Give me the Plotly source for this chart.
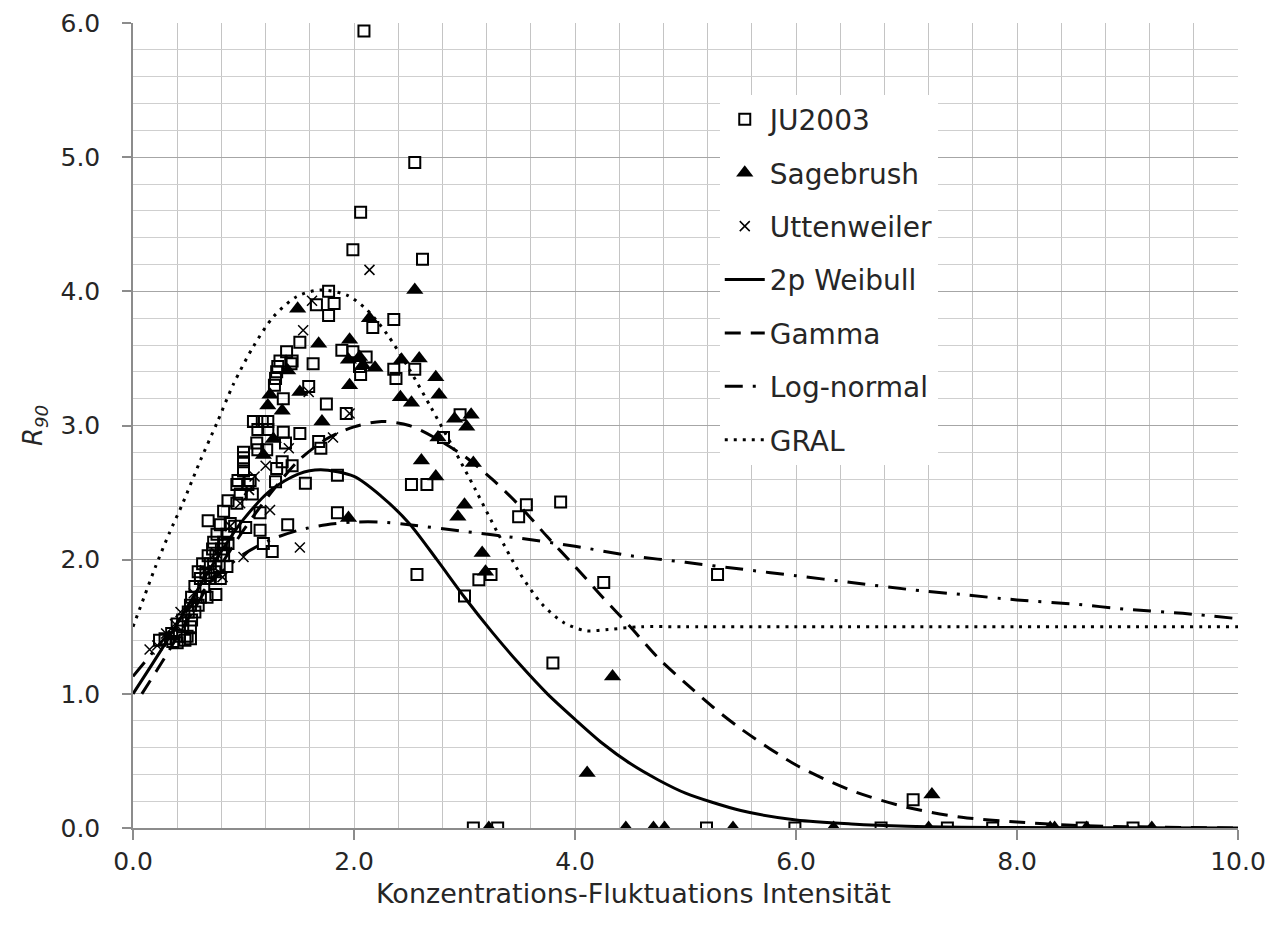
import plotly.graph_objects as go

# ---------------- data ----------------
ju_x = [2.09, 2.55, 2.06, 1.99, 2.62, 1.77, 1.82, 1.66, 1.77, 2.17, 2.36,
        1.51, 1.39, 1.43, 1.63, 1.89, 1.99, 2.11, 2.05, 2.06, 2.36, 2.38, 2.55,
        1.59, 1.36, 1.75, 1.93, 1.36, 1.51, 1.38, 1.68, 1.70, 1.44, 1.35, 1.56, 1.85, 2.52, 2.66,
        2.96, 2.81, 3.56, 3.49, 3.87, 2.57, 4.26, 5.29, 3.13, 3.24, 3.00, 3.80,
        3.08, 3.30, 5.19, 5.99, 6.77, 7.37, 7.78, 8.59, 9.05, 7.06,
        1.33, 1.44, 1.30, 1.29, 1.28, 1.31,
        1.09, 1.22, 1.13, 1.22, 1.17,
        1.12, 1.13, 1.21, 1.30,
        1.00, 1.00, 1.00, 1.00,
        0.95, 1.06, 1.29, 1.40, 1.85,
        0.94, 1.04, 0.97, 1.08, 0.86, 0.94, 0.82, 1.15, 0.68, 0.79, 0.88, 0.92, 1.02, 1.15,
        0.76, 0.85, 0.73, 0.82, 0.86, 1.18, 1.26, 0.72, 0.80, 0.68, 0.75, 0.82,
        0.63, 0.70, 0.78, 0.85, 0.59, 0.66, 0.74, 0.61, 0.70, 0.79, 0.75,
        0.56, 0.64, 0.53, 0.61, 0.67, 0.52, 0.59, 0.50, 0.56, 0.45, 0.53,
        0.40, 0.45, 0.52, 0.35, 0.42, 0.49, 0.52, 0.29, 0.36, 0.47, 0.40, 0.24]
ju_y = [5.94, 4.96, 4.59, 4.31, 4.24, 4.00, 3.91, 3.90, 3.82, 3.73, 3.79,
        3.62, 3.55, 3.46, 3.46, 3.56, 3.55, 3.51, 3.44, 3.38, 3.42, 3.35, 3.42,
        3.29, 3.20, 3.16, 3.09, 2.95, 2.94, 2.87, 2.88, 2.83, 2.70, 2.73, 2.57, 2.63, 2.56, 2.56,
        3.08, 2.91, 2.41, 2.32, 2.43, 1.89, 1.83, 1.89, 1.85, 1.89, 1.73, 1.23,
        0.0, 0.0, 0.0, 0.0, 0.0, 0.0, 0.0, 0.0, 0.0, 0.21,
        3.48, 3.48, 3.40, 3.35, 3.30, 3.44,
        3.03, 3.03, 2.97, 2.97, 3.03,
        2.87, 2.82, 2.82, 2.68,
        2.80, 2.76, 2.73, 2.66,
        2.59, 2.59, 2.58, 2.26, 2.35,
        2.56, 2.56, 2.49, 2.49, 2.44, 2.42, 2.36, 2.35, 2.29, 2.26, 2.27, 2.25, 2.24, 2.22,
        2.19, 2.19, 2.13, 2.13, 2.12, 2.12, 2.06, 2.08, 2.08, 2.03, 2.03, 2.03,
        1.97, 1.97, 1.95, 1.95, 1.91, 1.90, 1.91, 1.86, 1.86, 1.86, 1.74,
        1.80, 1.80, 1.72, 1.72, 1.72, 1.66, 1.66, 1.61, 1.61, 1.55, 1.55,
        1.52, 1.50, 1.50, 1.45, 1.43, 1.43, 1.41, 1.41, 1.39, 1.40, 1.38, 1.40]

sage_x = [1.49, 2.55, 2.14, 1.68, 1.96, 1.95, 2.05, 2.08, 2.19, 2.43, 2.59, 1.96, 1.51,
          1.40, 1.24, 1.22, 1.35, 1.71, 1.27, 1.18, 1.95, 2.42, 2.52, 2.74, 2.77, 2.91,
          3.06, 3.02, 2.76, 2.61, 2.74, 3.08, 3.00, 2.94, 3.16, 3.19, 4.34, 4.11,
          3.22, 4.46, 4.71, 4.81, 5.43, 6.34, 7.23, 7.20, 8.30, 8.34, 8.63, 9.22]
sage_y = [3.87, 4.01, 3.80, 3.61, 3.64, 3.49, 3.51, 3.45, 3.43, 3.49, 3.50, 3.30, 3.25,
          3.41, 3.23, 3.15, 3.11, 3.03, 2.90, 2.78, 2.31, 3.21, 3.17, 3.36, 3.23, 3.05,
          3.08, 2.99, 2.91, 2.74, 2.62, 2.72, 2.41, 2.32, 2.05, 1.91, 1.13, 0.41,
          0.0, 0.0, 0.0, 0.0, 0.0, 0.0, 0.25, 0.0, 0.0, 0.0, 0.0, 0.0]

utt_x = [2.14, 1.62, 1.54, 1.59, 1.96, 1.81, 1.41, 1.10, 1.24, 1.51, 0.81, 1.00,
         0.43, 0.22, 0.30, 0.55, 0.65, 0.75, 0.88, 0.97, 1.05, 0.38, 1.20, 0.15]
utt_y = [4.16, 3.93, 3.71, 3.25, 3.09, 2.91, 2.83, 2.62, 2.37, 2.09, 1.87, 2.02,
         1.61, 1.36, 1.45, 1.75, 1.92, 2.05, 2.25, 2.42, 2.52, 1.52, 2.70, 1.33]

weib_x = [0.0, 0.25, 0.5, 0.75, 1.0, 1.25, 1.5, 1.7, 2.0, 2.25, 2.5, 2.75, 3.0, 3.25,
          3.5, 3.75, 4.0, 4.25, 4.5, 4.75, 5.0, 5.5, 6.0, 6.5, 7.0, 7.5, 8.0, 9.0, 10.0]
weib_y = [1.0, 1.32, 1.66, 2.0, 2.3, 2.52, 2.64, 2.67, 2.62, 2.47, 2.27, 2.0, 1.72, 1.46,
          1.22, 1.0, 0.81, 0.63, 0.48, 0.36, 0.26, 0.13, 0.06, 0.03, 0.013, 0.006, 0.003, 0.001, 0.0]

gam_x = [0.08, 0.15, 0.25, 0.5, 0.75, 1.0, 1.25, 1.5, 1.75, 2.0, 2.25, 2.5, 2.75, 3.0,
         3.25, 3.5, 3.75, 4.0, 4.25, 4.5, 4.75, 5.0, 5.25, 5.5, 6.0, 6.5, 7.0, 7.5, 8.0,
         8.5, 9.0, 10.0]
gam_y = [1.0, 1.09, 1.22, 1.56, 1.9, 2.22, 2.5, 2.74, 2.9, 2.99, 3.03, 3.0, 2.9, 2.77,
         2.6, 2.4, 2.17, 1.95, 1.72, 1.5, 1.27, 1.08, 0.9, 0.74, 0.47, 0.28, 0.155, 0.08, 0.045,
         0.02, 0.01, 0.0]

logn_x = [0.0, 0.25, 0.5, 0.75, 1.0, 1.25, 1.5, 1.75, 2.0, 2.25, 2.5, 3.0, 3.5, 4.0,
          4.5, 5.0, 5.5, 6.0, 6.5, 7.0, 7.5, 8.0, 8.5, 9.0, 9.5, 10.0]
logn_y = [1.13, 1.38, 1.63, 1.87, 2.04, 2.15, 2.22, 2.26, 2.28, 2.28, 2.26, 2.21, 2.16, 2.10,
          2.03, 1.98, 1.93, 1.88, 1.83, 1.78, 1.74, 1.70, 1.67, 1.63, 1.60, 1.56]

gral_x = [0.0, 0.1, 0.2, 0.33, 0.45, 0.61, 0.76, 0.91, 1.09, 1.27, 1.48, 1.69, 1.94, 2.12,
          2.3, 2.5, 2.7, 2.9, 3.1, 3.3, 3.5, 3.7, 3.9, 4.1, 4.3, 4.6, 5.0, 6.0, 8.0, 10.0]
gral_y = [1.5, 1.72, 1.94, 2.2, 2.42, 2.74, 3.02, 3.31, 3.59, 3.81, 3.96, 4.01, 3.97, 3.86,
          3.68, 3.42, 3.13, 2.83, 2.52, 2.2, 1.9, 1.67, 1.53, 1.47, 1.48, 1.5, 1.5, 1.5, 1.5, 1.5]

x_ticks = [0, 2, 4, 6, 8, 10]
y_ticks = [0, 1, 2, 3, 4, 5, 6]
x_title = "Konzentrations-Fluktuations Intensität"
y_title = "<i>R<sub>90</sub></i>"

FONT = "DejaVu Sans"
TXT = "#262626"

fig = go.Figure()

fig.add_trace(go.Scatter(
    x=ju_x, y=ju_y, mode="markers", name="JU2003", legendgroup="g1",
    marker=dict(symbol="square-open", size=11, color="black", line=dict(width=2, color="black"))))
fig.add_trace(go.Scatter(
    x=sage_x, y=sage_y, mode="markers", name="Sagebrush", legendgroup="g2",
    marker=dict(symbol="triangle-up", size=15, color="black", line=dict(width=0))))
fig.add_trace(go.Scatter(
    x=utt_x, y=utt_y, mode="markers", name="Uttenweiler", legendgroup="g3",
    marker=dict(symbol="x-thin-open", size=10, color="black", line=dict(width=1.5, color="black"))))
fig.add_trace(go.Scatter(
    x=weib_x, y=weib_y, mode="lines", name="2p Weibull", legendgroup="g4",
    line=dict(color="black", width=3, shape="spline", smoothing=0.8)))
fig.add_trace(go.Scatter(
    x=gam_x, y=gam_y, mode="lines", name="Gamma", legendgroup="g5",
    line=dict(color="black", width=3, dash="16px,10px", shape="spline", smoothing=0.8)))
fig.add_trace(go.Scatter(
    x=logn_x, y=logn_y, mode="lines", name="Log-normal", legendgroup="g6",
    line=dict(color="black", width=3, dash="18px,10px,3px,10px", shape="spline", smoothing=0.8)))
fig.add_trace(go.Scatter(
    x=gral_x, y=gral_y, mode="lines", name="GRAL", legendgroup="g7",
    line=dict(color="black", width=3, dash="3px,6px", shape="spline", smoothing=0.8)))

fig.add_annotation(
    text=x_title, xref="paper", yref="paper", x=0.453, y=-0.0596,
    xanchor="center", yanchor="top", showarrow=False,
    font=dict(family=FONT, size=27, color=TXT))

fig.update_layout(
    width=1272, height=932,
    margin=dict(l=133, r=34, t=23, b=104, autoexpand=False),
    paper_bgcolor="white", plot_bgcolor="white",
    font=dict(family=FONT, color=TXT),
    showlegend=True,
    legend=dict(x=0.531, y=0.911, xanchor="left", yanchor="top",
                bgcolor="white", borderwidth=0,
                font=dict(family=FONT, size=28, color=TXT),
                tracegroupgap=14, itemwidth=40),
    xaxis=dict(range=[0, 10], tickvals=x_ticks, tickformat=".1f", automargin=False,
               showgrid=True, gridcolor="#c4c4c4", gridwidth=1.3,
               minor=dict(dtick=0.4, showgrid=True, gridcolor="#c4c4c4", gridwidth=1.3),
               showline=True, linecolor="#8c8c8c", linewidth=1.5,
               ticks="outside", ticklen=10, tickcolor="#8c8c8c", tickwidth=1.5,
               ticklabelstandoff=0,
               tickfont=dict(family=FONT, size=25, color=TXT),
               zeroline=False),
    yaxis=dict(range=[0, 6], tickvals=y_ticks, tickformat=".1f", automargin=False,
               showgrid=True, gridcolor="#a6a6a6", gridwidth=1.3,
               minor=dict(dtick=0.2, showgrid=True, gridcolor="#cfcfcf", gridwidth=1.3),
               showline=True, linecolor="#8c8c8c", linewidth=1.5,
               ticks="outside", ticklen=9, tickcolor="#8c8c8c", tickwidth=1.5,
               ticklabelstandoff=17,
               tickfont=dict(family=FONT, size=25, color=TXT),
               zeroline=False,
               title=dict(text=y_title,
                          font=dict(family=FONT, size=26, color=TXT), standoff=10)),
)

fig.write_html("out.html")
